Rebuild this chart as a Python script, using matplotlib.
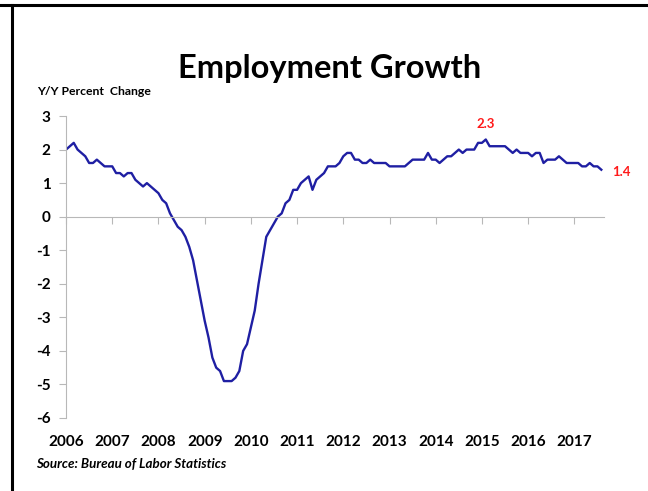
import numpy as np
import matplotlib
matplotlib.use('Agg')
import matplotlib.pyplot as plt
from matplotlib.lines import Line2D

plt.rcParams['font.family'] = ['Lato', 'DejaVu Sans']

# Y/Y % change in payroll employment, monthly, Jan 2006 - Aug 2017
y2006 = [2.0, 2.1, 2.2, 2.0, 1.9, 1.8, 1.6, 1.6, 1.7, 1.6, 1.5, 1.5]
y2007 = [1.5, 1.3, 1.3, 1.2, 1.3, 1.3, 1.1, 1.0, 0.9, 1.0, 0.9, 0.8]
y2008 = [0.7, 0.5, 0.4, 0.1, -0.1, -0.3, -0.4, -0.6, -0.9, -1.3, -1.9, -2.5]
y2009 = [-3.1, -3.6, -4.2, -4.5, -4.6, -4.9, -4.9, -4.9, -4.8, -4.6, -4.0, -3.8]
y2010 = [-3.3, -2.8, -2.0, -1.3, -0.6, -0.4, -0.2, 0.0, 0.1, 0.4, 0.5, 0.8]
y2011 = [0.8, 1.0, 1.1, 1.2, 0.8, 1.1, 1.2, 1.3, 1.5, 1.5, 1.5, 1.6]
y2012 = [1.8, 1.9, 1.9, 1.7, 1.7, 1.6, 1.6, 1.7, 1.6, 1.6, 1.6, 1.6]
y2013 = [1.5, 1.5, 1.5, 1.5, 1.5, 1.6, 1.7, 1.7, 1.7, 1.7, 1.9, 1.7]
y2014 = [1.7, 1.6, 1.7, 1.8, 1.8, 1.9, 2.0, 1.9, 2.0, 2.0, 2.0, 2.2]
y2015 = [2.2, 2.3, 2.1, 2.1, 2.1, 2.1, 2.1, 2.0, 1.9, 2.0, 1.9, 1.9]
y2016 = [1.9, 1.8, 1.9, 1.9, 1.6, 1.7, 1.7, 1.7, 1.8, 1.7, 1.6, 1.6]
y2017 = [1.6, 1.6, 1.5, 1.5, 1.6, 1.5, 1.5, 1.4]

growth = np.array(y2006 + y2007 + y2008 + y2009 + y2010 + y2011 +
                  y2012 + y2013 + y2014 + y2015 + y2016 + y2017)
dates = 2006 + np.arange(len(growth)) / 12.0

years = list(range(2006, 2018))
year_labels = [str(y) for y in years]
y_ticks = list(range(-6, 4))

peak_i = int(np.argmax(growth))
last_i = len(growth) - 1

fig = plt.figure(figsize=(6.48, 4.91), dpi=100)
ax = fig.add_axes([0.1019, 0.1487, 0.8302, 0.615])

ax.plot(dates, growth, color='#1f1fa3', linewidth=1.7, solid_joinstyle='round')

ax.set_xlim(2006, 2006 + 139.7 / 12)
ax.set_ylim(-6, 3)

grey = '#b8b8b8'
for s in ['top', 'right']:
    ax.spines[s].set_visible(False)
ax.spines['left'].set_color(grey)
ax.spines['bottom'].set_color(grey)
ax.spines['bottom'].set_position(('data', 0))

ax.set_yticks(y_ticks)
ax.set_yticklabels([str(v) for v in y_ticks], fontsize=11, fontweight='bold')
ax.tick_params(axis='y', length=5, color=grey, pad=6)

ax.set_xticks(years)
ax.tick_params(axis='x', direction='out', length=5, color=grey, labelbottom=False)

sec = ax.secondary_xaxis('bottom')
sec.set_xticks(years)
sec.set_xticklabels(year_labels, fontsize=11, fontweight='bold')
sec.tick_params(length=0, pad=12)
sec.spines['bottom'].set_visible(False)

# point labels
ax.annotate(f'{growth[peak_i]:.1f}', (dates[peak_i], growth[peak_i]), xytext=(0, 7),
            textcoords='offset points', ha='center', va='bottom',
            color='#ff1a1a', fontsize=9.5, fontweight='bold')
ax.annotate(f'{growth[last_i]:.1f}', (dates[last_i], growth[last_i]), xytext=(8, -2),
            textcoords='offset points', ha='left', va='center',
            color='#ff1a1a', fontsize=9.5, fontweight='bold')

fig.text(0.509, 0.842, 'Employment Growth', ha='center', va='baseline',
         fontsize=23.5, fontweight='bold')
fig.text(0.057, 0.806, 'Y/Y Percent  Change', ha='left', va='baseline',
         fontsize=8.8, fontweight='bold')
fig.text(0.056, 0.047, 'Source: Bureau of Labor Statistics', ha='left', va='baseline',
         fontsize=9.6, fontweight='bold', style='italic')

# frame lines of the original slide
fig.add_artist(Line2D([0, 1], [0.99, 0.99], color='black', linewidth=2.2, transform=fig.transFigure))
fig.add_artist(Line2D([0.0185, 0.0185], [0, 0.99], color='black', linewidth=2.2, transform=fig.transFigure))

fig.savefig('out.png', dpi=100)
